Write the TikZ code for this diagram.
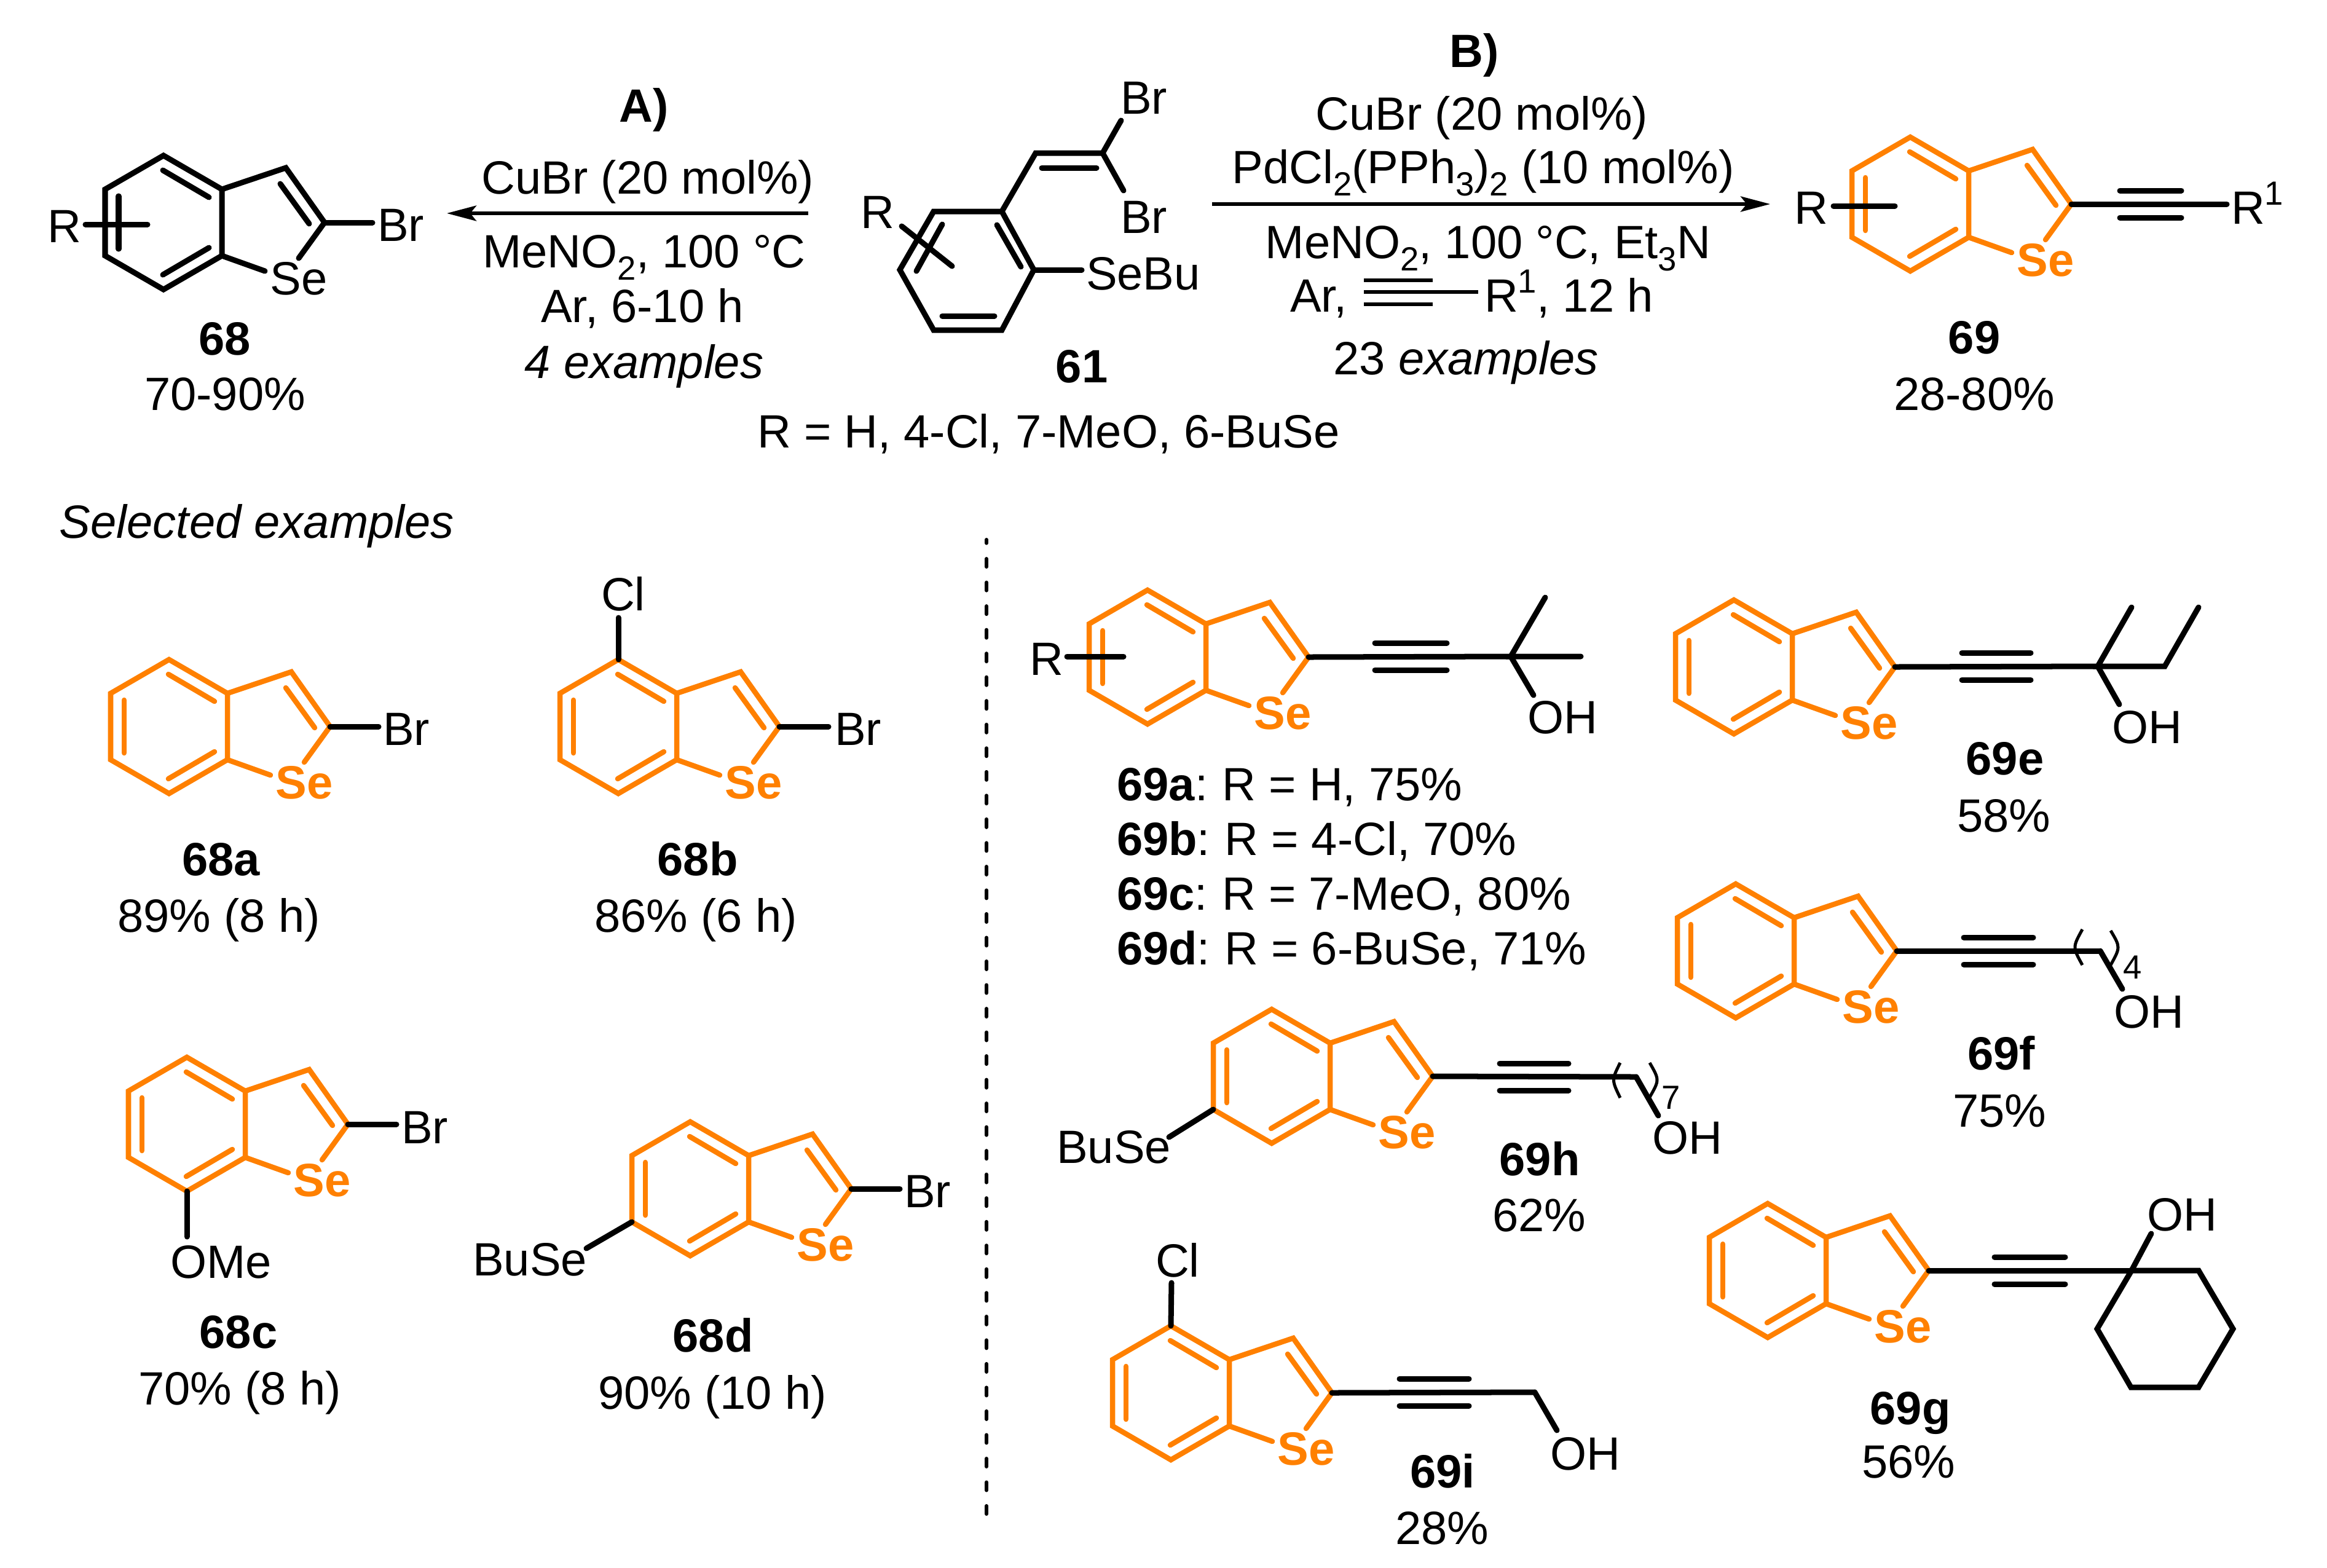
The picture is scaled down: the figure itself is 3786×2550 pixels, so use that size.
\documentclass[tikz,border=0pt]{standalone}
\usepackage{fontspec}
\setmainfont{Liberation Sans}
\usetikzlibrary{arrows.meta}
\definecolor{seorange}{HTML}{FF8000}
\newcommand{\sbs}[1]{\raisebox{-0.2cm}{\fontsize{15.5pt}{15.5pt}\selectfont #1}}
\newcommand{\sps}[1]{\raisebox{0.31cm}{\fontsize{15.5pt}{15.5pt}\selectfont #1}}
\newcommand{\clr}{:\kern0.03em\ }
\tikzset{
  x=0.01cm,y=-0.01cm,
  lbl/.style={inner sep=0pt,outer sep=0pt,text height=0.54cm,text depth=0pt,font=\fontsize{21.6pt}{24pt}\selectfont},
  small/.style={inner sep=0pt,outer sep=0pt,text height=0.39cm,text depth=0pt,font=\fontsize{15.5pt}{16pt}\selectfont},
  plainse/.style={lbl},
  boldse/.style={lbl,text=seorange,font=\fontsize{21.6pt}{24pt}\selectfont\bfseries},
  bond/.style={line width=0.09cm,line cap=round,line join=miter,draw=black},
  obond/.style={bond,line width=0.085cm,draw=seorange},
  thinb/.style={line width=0.05cm,line cap=butt,draw=black},
}
% benzoselenophene template: name, x, y of the ring-fusion midpoint, bond style, Se style
\newcommand{\bsel}[5]{%
\begin{scope}[shift={(#2,#3)}]
\coordinate (#1-t) at (-95,-109);
\coordinate (#1-lu) at (-190,-54);
\coordinate (#1-ld) at (-190,54);
\coordinate (#1-b) at (-95,109);
\coordinate (#1-jb) at (0,54);
\coordinate (#1-ja) at (0,-54);
\coordinate (#1-c) at (104,-89);
\coordinate (#1-d) at (167,0);
\coordinate (#1-e) at (125,58);
\coordinate (#1-f) at (70,79);
\draw[#4] (#1-t) -- (#1-lu) -- (#1-ld) -- (#1-b) -- (#1-jb) -- (#1-ja) -- cycle;
\draw[#4] (#1-ja) -- (#1-c) -- (#1-d) -- (#1-e);
\draw[#4] (#1-jb) -- (#1-f);
\draw[#4] (-96,-85) -- (-21,-41);
\draw[#4] (-168,-43) -- (-168,43);
\draw[#4] (-96,85) -- (-21,41);
\draw[#4] (95,-63) -- (142,2);
\node[#5] (#1-Se) at (125,90) {Se};
\end{scope}}
% alkyne: from a to b, side lines x1..x2 at height y
\newcommand{\alkyne}[5]{%
\draw[bond] (#1) -- (#2);
\draw[bond] (#3,#5-22) -- (#4,#5-22);
\draw[bond] (#3,#5+22) -- (#4,#5+22);}
\begin{document}
\begin{tikzpicture}
\useasboundingbox (0,0) rectangle (3786,2550);
\fill[white] (0,0) rectangle (3786,2550);

% ---- top: 68
\bsel{m}{361}{362}{bond}{plainse}
\node[lbl] (mR) at (105,367) {R};
\coordinate (mRa) at (139,365); \coordinate (mRb) at (240,365);
\draw[bond] (mRa) -- (mRb);
\node[lbl] (mBr) at (652,365) {Br};
\coordinate (mBre) at (606,362);
\draw[bond] (m-d) -- (mBre);
\node[lbl] (m68) at (366,550) {\textbf{68}};
\node[lbl] (m68y) at (366,640) {70-90\%};

% ---- arrow A
\node[lbl] (aA) at (1048,171) {\textbf{A)}};
\node[lbl] (aB) at (1054,288) {CuBr (20 mol\%)};
\coordinate (arAs) at (1315,347); \coordinate (arAe) at (727,347);
\draw[line width=0.055cm,-{Stealth[length=0.48cm,width=0.25cm,inset=0.1cm]}] (arAs) -- (arAe);
\node[lbl] (aC) at (1048,408) {MeNO\sbs{2}, 100 °C};
\node[lbl] (aD) at (1045,497) {Ar, 6-10 h};
\node[lbl] (aE) at (1048,588) {\textit{4 examples}};

% ---- 61
\coordinate (s1) at (1519,344); \coordinate (s2) at (1630,344);
\coordinate (s3) at (1682,439); \coordinate (s4) at (1630,537);
\coordinate (s5) at (1519,537); \coordinate (s6) at (1464,439);
\coordinate (v1) at (1685,249); \coordinate (v2) at (1794,249);
\coordinate (br1e) at (1824,196); \coordinate (br2e) at (1828,310);
\coordinate (see) at (1760,439);
\draw[bond] (s1) -- (s2) -- (s3) -- (s4) -- (s5) -- (s6) -- cycle;
\draw[bond] (s2) -- (v1) -- (v2) -- (br1e);
\draw[bond] (v2) -- (br2e);
\draw[bond] (1695,273) -- (1784,273);
\draw[bond] (s3) -- (see);
\draw[bond] (1533,365) -- (1491,441);
\draw[bond] (1622,366) -- (1661,434);
\draw[bond] (1533,514) -- (1618,514);
\node[lbl] (sBr1) at (1861,158) {Br};
\node[lbl] (sBr2) at (1861,352) {Br};
\node[lbl,anchor=west] (sSe) at (1767,444) {SeBu};
\node[lbl] (sR) at (1428,344) {R};
\coordinate (sRa) at (1467,368); \coordinate (sRb) at (1549,433);
\draw[bond] (sRa) -- (sRb);
\node[lbl] (s61) at (1760,595) {\textbf{61}};
\node[lbl] (sRR) at (1706,701) {R = H, 4-Cl, 7-MeO, 6-BuSe};

% ---- arrow B
\node[lbl] (bA) at (2399,82) {\textbf{B)}};
\node[lbl] (bB) at (2411,184) {CuBr (20 mol\%)};
\node[lbl] (bC) at (2413,271) {PdCl\sbs{2}(PPh\sbs{3})\sbs{2} (10 mol\%)};
\coordinate (arBs) at (1972,332); \coordinate (arBe) at (2880,332);
\draw[line width=0.055cm,-{Stealth[length=0.48cm,width=0.25cm,inset=0.1cm]}] (arBs) -- (arBe);
\node[lbl] (bD) at (2421,393) {MeNO\sbs{2}, 100 °C, Et\sbs{3}N};
\node[lbl,anchor=west] (bE) at (2099,480) {Ar,};
\node[lbl,anchor=west] (bF) at (2415,480) {R\sps{1}, 12 h};
\coordinate (bFe) at (2405,475);
\draw[line width=0.055cm] (2219,456) -- (2331,456);
\draw[line width=0.055cm] (2219,475) -- (bFe);
\draw[line width=0.055cm] (2219,495) -- (2331,495);
\node[lbl] (bG) at (2385,582) {23 \textit{examples}};

% ---- top: 69
\bsel{n}{3203}{332}{obond}{boldse}
\node[lbl] (nR) at (2947,337) {R};
\coordinate (nRa) at (2983,335); \coordinate (nRb) at (3083,335);
\draw[bond] (nRa) -- (nRb);
\node[lbl,anchor=west] (nRo) at (3630,337) {R\sps{1}};
\coordinate (nC) at (3623,332);
\alkyne{n-d}{nC}{3449}{3549}{332}
\node[lbl] (n69) at (3212,548) {\textbf{69}};
\node[lbl] (n69y) at (3212,640) {28-80\%};

% ---- heading and divider
\node[lbl,anchor=west] (sel) at (97,848) {\textit{Selected examples}};
\coordinate (da) at (1605,2463); \coordinate (db) at (1605,878);
\draw[line width=0.06cm,line cap=round,dash pattern=on 0.13cm off 0.255cm] (da) -- (db);

% ---- 68a
\bsel{a}{370}{1182}{obond}{boldse}
\coordinate (aBre) at (616,1182);
\draw[bond] (a-d) -- (aBre);
\node[lbl] (aBr) at (661,1185) {Br};
\node[lbl] (a68) at (360,1397) {\textbf{68a}};
\node[lbl] (a68y) at (356,1489) {89\% (8 h)};

% ---- 68b
\bsel{b}{1101}{1182}{obond}{boldse}
\coordinate (bBre) at (1348,1182);
\draw[bond] (b-d) -- (bBre);
\node[lbl] (bBr) at (1396,1185) {Br};
\coordinate (bCle) at (1006,1005);
\draw[bond] (b-t) -- (bCle);
\node[lbl] (bCl) at (1014,966) {Cl};
\node[lbl] (b68) at (1135,1397) {\textbf{68b}};
\node[lbl] (b68y) at (1132,1489) {86\% (6 h)};

% ---- 68c
\bsel{c}{399}{1829}{obond}{boldse}
\coordinate (cBre) at (645,1829);
\draw[bond] (c-d) -- (cBre);
\node[lbl] (cBr) at (691,1833) {Br};
\coordinate (cOe) at (304,2012);
\draw[bond] (c-b) -- (cOe);
\node[lbl,anchor=west] (cO) at (277,2052) {OMe};
\node[lbl] (c68) at (388,2166) {\textbf{68c}};
\node[lbl] (c68y) at (390,2258) {70\% (8 h)};

% ---- 68d
\bsel{d}{1218}{1934}{obond}{boldse}
\coordinate (dBre) at (1464,1934);
\draw[bond] (d-d) -- (dBre);
\node[lbl] (dBr) at (1509,1937) {Br};
\coordinate (dSe) at (954,2031);
\draw[bond] (d-ld) -- (dSe);
\node[lbl,anchor=east] (dBu) at (955,2048) {BuSe};
\node[lbl] (d68) at (1160,2172) {\textbf{68d}};
\node[lbl] (d68y) at (1159,2265) {90\% (10 h)};

% ---- 69a-d
\bsel{e}{1962}{1069}{obond}{boldse}
\node[lbl] (eR) at (1703,1071) {R};
\coordinate (eRa) at (1736,1068); \coordinate (eRb) at (1828,1068);
\draw[bond] (eRa) -- (eRb);
\coordinate (eC) at (2458,1068);
\alkyne{e-d}{eC}{2237}{2354}{1068}
\coordinate (eM1) at (2514,972); \coordinate (eM2) at (2572,1068); \coordinate (eOe) at (2495,1131);
\draw[bond] (eM1) -- (eC) -- (eM2);
\draw[bond] (eC) -- (eOe);
\node[lbl] (eOH) at (2542,1166) {OH};
\node[lbl,anchor=west] (eL1) at (1817,1275) {\textbf{69a}\clr R = H, 75\%};
\node[lbl,anchor=west] (eL2) at (1817,1364) {\textbf{69b}\clr R = 4-Cl, 70\%};
\node[lbl,anchor=west] (eL3) at (1817,1453) {\textbf{69c}\clr R = 7-MeO, 80\%};
\node[lbl,anchor=west] (eL4) at (1817,1542) {\textbf{69d}\clr R = 6-BuSe, 71\%};

% ---- 69e
\bsel{f}{2916}{1085}{obond}{boldse}
\coordinate (fC) at (3413,1084);
\alkyne{f-d}{fC}{3192}{3304}{1084}
\coordinate (fM) at (3468,988); \coordinate (fE1) at (3522,1084); \coordinate (fE2) at (3577,988); \coordinate (fOe) at (3448,1146);
\draw[bond] (fM) -- (fC) -- (fE1) -- (fE2);
\draw[bond] (fC) -- (fOe);
\node[lbl] (fOH) at (3493,1182) {OH};
\node[lbl] (f69) at (3262,1233) {\textbf{69e}};
\node[lbl] (f69y) at (3260,1326) {58\%};

% ---- 69f
\bsel{g}{2919}{1547}{obond}{boldse}
\coordinate (gC) at (3417,1547); \coordinate (gOe) at (3453,1609);
\alkyne{g-d}{gC}{3195}{3308}{1547}
\draw[bond] (gC) -- (gOe);
\node[lbl] (gOH) at (3496,1645) {OH};
\draw[thinb] (3388,1512) .. controls (3372,1541) .. (3388,1570);
\draw[thinb] (3434,1514) .. controls (3450,1541) .. (3434,1570);
\node[small] (g4) at (3470,1573) {4};
\node[lbl] (g69) at (3256,1713) {\textbf{69f}};
\node[lbl] (g69y) at (3253,1806) {75\%};

% ---- 69h
\bsel{h}{2164}{1751}{obond}{boldse}
\coordinate (hC) at (2662,1752); \coordinate (hOe) at (2698,1815);
\alkyne{h-d}{hC}{2440}{2552}{1752}
\draw[bond] (hC) -- (hOe);
\node[lbl] (hOH) at (2745,1850) {OH};
\draw[thinb] (2636,1729) .. controls (2622,1757) .. (2636,1786);
\draw[thinb] (2684,1729) .. controls (2700,1757) .. (2684,1785);
\node[small] (h7) at (2719,1785) {7};
\coordinate (hSe) at (1902,1850);
\draw[bond] (h-ld) -- (hSe);
\node[lbl] (hBu) at (1812,1865) {BuSe};
\node[lbl] (h69) at (2505,1885) {\textbf{69h}};
\node[lbl] (h69y) at (2504,1976) {62\%};

% ---- 69i
\bsel{i}{2000}{2266}{obond}{boldse}
\coordinate (iC) at (2497,2265); \coordinate (iOe) at (2533,2327); \coordinate (iCle) at (1906,2087);
\alkyne{i-d}{iC}{2277}{2390}{2265}
\draw[bond] (iC) -- (iOe);
\draw[bond] (i-t) -- (iCle);
\node[lbl] (iOH) at (2579,2364) {OH};
\node[lbl] (iCl) at (1916,2050) {Cl};
\node[lbl] (i69) at (2347,2393) {\textbf{69i}};
\node[lbl] (i69y) at (2346,2485) {28\%};

% ---- 69g
\bsel{j}{2971}{2067}{obond}{boldse}
\coordinate (jC) at (3468,2067); \coordinate (jr2) at (3577,2067); \coordinate (jr3) at (3633,2162);
\coordinate (jr4) at (3577,2257); \coordinate (jr5) at (3467,2257); \coordinate (jr6) at (3412,2162);
\coordinate (jOe) at (3500,2007);
\alkyne{j-d}{jC}{3245}{3360}{2067}
\draw[bond] (jC) -- (jr2) -- (jr3) -- (jr4) -- (jr5) -- (jr6) -- cycle;
\draw[bond] (jC) -- (jOe);
\node[lbl] (jOH) at (3550,1975) {OH};
\node[lbl] (j69) at (3108,2290) {\textbf{69g}};
\node[lbl] (j69y) at (3105,2377) {56\%};
\end{tikzpicture}
\end{document}
